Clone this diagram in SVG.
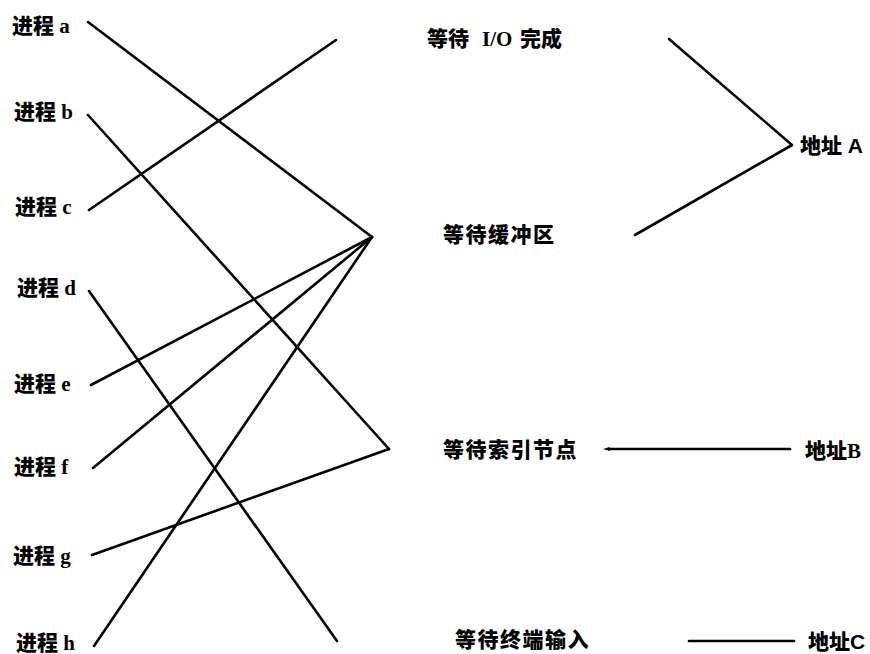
<svg xmlns="http://www.w3.org/2000/svg" width="870" height="654" viewBox="0 0 870 654">
<defs>
<style>
.t{font-family:"Liberation Serif","Noto Sans CJK SC",serif;font-size:21px;font-weight:900;fill:#000;dominant-baseline:central}
.s{font-family:"Liberation Sans","Noto Sans CJK SC",sans-serif;font-size:21px;font-weight:900;fill:#000;dominant-baseline:central}
.c line,.c polyline{stroke:#000;stroke-width:2.6;fill:none;stroke-linecap:round;stroke-linejoin:round}
</style>
<marker id="ah" viewBox="0 0 10 10" refX="1" refY="5" markerWidth="3.5" markerHeight="2.5" orient="auto-start-reverse" markerUnits="strokeWidth">
<path d="M10,5 L0,2 L0,8 z" fill="#000"/>
</marker>
</defs>
<rect width="870" height="654" fill="#fff"/>
<g id="pa"><text class="t" x="12" y="26">进程 a</text></g>
<g id="pb"><text class="t" x="14" y="112">进程 b</text></g>
<g id="pc"><text class="t" x="15" y="207">进程 c</text></g>
<g id="pd"><text class="t" x="17" y="288">进程 d</text></g>
<g id="pe"><text class="t" x="14" y="384">进程 e</text></g>
<g id="pf"><text class="t" x="14" y="467">进程 f</text></g>
<g id="pg"><text class="t" x="13" y="556">进程 g</text></g>
<g id="ph"><text class="t" x="16" y="643">进程 h</text></g>
<g id="wio"><text class="t" x="427" y="39">等待<tspan x="482">I/O</tspan><tspan x="520">完成</tspan></text></g>
<g id="wbuf"><text class="t" x="443" y="235" letter-spacing="1.5">等待缓冲区</text></g>
<g id="widx"><text class="t" x="443" y="450" letter-spacing="1.5">等待索引节点</text></g>
<g id="wtty"><text class="t" x="455" y="640" letter-spacing="1.5">等待终端输入</text></g>
<g id="addrA"><text class="s" x="800" y="145">地址 A</text></g>
<g id="addrB"><text class="t" x="805" y="451">地址B</text></g>
<g id="addrC"><text class="s" x="808" y="641">地址C</text></g>
<g class="c" id="connectors">
<line x1="88" y1="22" x2="372" y2="237"/>
<line x1="88" y1="115" x2="389" y2="449"/>
<line x1="89" y1="210" x2="336" y2="40"/>
<line x1="89" y1="291" x2="337" y2="641"/>
<line x1="91" y1="385" x2="372" y2="237"/>
<line x1="93" y1="468" x2="372" y2="237"/>
<line x1="92" y1="555" x2="389" y2="449"/>
<line x1="94" y1="646" x2="372" y2="237"/>
<polyline points="669,39 792,145 635,235"/>
<line x1="790" y1="449" x2="609" y2="449" marker-end="url(#ah)"/>
<line x1="689" y1="641" x2="794" y2="641"/>
</g>
</svg>
